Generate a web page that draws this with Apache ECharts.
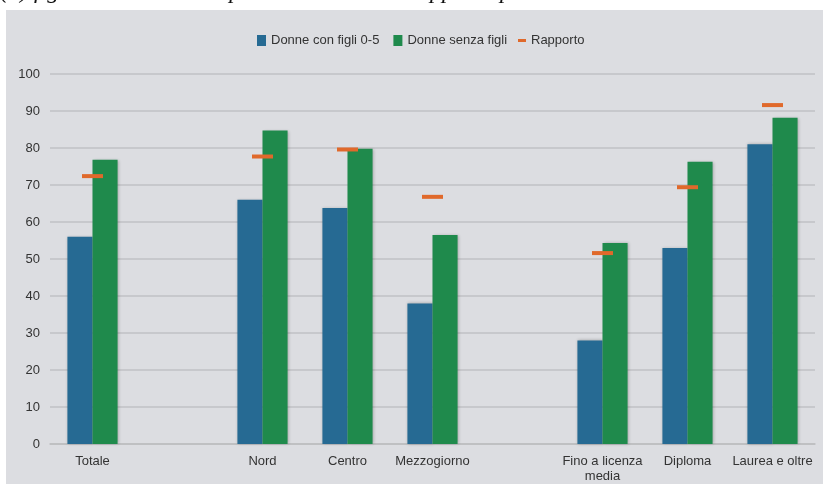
<!DOCTYPE html>
<html><head><meta charset="utf-8">
<script src="https://cdn.jsdelivr.net/npm/echarts@6/dist/echarts.min.js"></script>
<style>
html,body{margin:0;padding:0;background:#fff;}
#wrap{position:relative;width:823px;height:484px;overflow:hidden;}
#bg{position:absolute;left:6px;top:10px;width:817px;height:474px;background:#dcdde1;}
#chart{position:absolute;left:0;top:0;width:823px;height:484px;}
</style></head>
<body><div id="wrap"><div id="bg"></div><div id="chart"></div></div>
<script>
const categories = ['Totale', '', 'Nord', 'Centro', 'Mezzogiorno', ' ', 'Fino a licenza\nmedia', 'Diploma', 'Laurea e oltre'];
const conFigli = [56, '-', 66, 63.8, 38, '-', 28, 53, 81];
const senzaFigli = [76.8, '-', 84.7, 79.8, 56.5, '-', 54.3, 76.3, 88.2];
const rapporto = [72.4, '-', 77.7, 79.6, 66.8, '-', 51.6, 69.4, 91.6];
const yTicks = {min: 0, max: 100, interval: 10};
const titleText = '(a) figli 0-5 nel totale e per classe di età e rapporto per 100';

const chart = echarts.init(document.getElementById('chart'), null, {renderer: 'canvas'});
const font = 'Liberation Sans, Arial, sans-serif';
chart.setOption({
  backgroundColor: 'transparent',
  animation: false,
  textStyle: {fontFamily: font},
  graphic: [{
    type: 'text', left: 0, top: -20, silent: true,
    style: {text: titleText, font: 'italic 24px "Liberation Serif", serif', fill: '#111'}
  }],
  legend: [{
    left: 252, top: 29, itemWidth: 9, itemHeight: 11, itemGap: 14,
    icon: 'rect',
    textStyle: {fontSize: 13, color: '#333', fontFamily: font},
    data: ['Donne con figli 0-5', 'Donne senza figli']
  }, {
    left: 513, top: 29, itemWidth: 8, itemHeight: 3,
    icon: 'rect',
    textStyle: {fontSize: 13, color: '#333', fontFamily: font},
    data: ['Rapporto']
  }],
  grid: {left: 50, right: 8, top: 74, bottom: 36, containLabel: false},
  xAxis: {
    type: 'category', data: categories,
    axisLine: {lineStyle: {color: '#bcbdc0', width: 1.5}},
    axisTick: {show: false},
    axisLabel: {fontSize: 13, color: '#333', margin: 10, interval: 0, lineHeight: 15, fontFamily: font}
  },
  yAxis: {
    type: 'value', min: yTicks.min, max: yTicks.max, interval: yTicks.interval,
    axisLine: {show: false}, axisTick: {show: false},
    axisLabel: {fontSize: 13, color: '#333', margin: 10, fontFamily: font},
    splitLine: {lineStyle: {color: '#c0c1c4', width: 1.5}}
  },
  series: [{
    name: 'Donne con figli 0-5', type: 'bar', data: conFigli,
    barGap: '0%', barCategoryGap: '41%',
    itemStyle: {color: '#266a93', shadowBlur: 3, shadowColor: 'rgba(0,0,0,0.25)', shadowOffsetX: 1}
  }, {
    name: 'Donne senza figli', type: 'bar', data: senzaFigli,
    itemStyle: {color: '#1f8a4c', shadowBlur: 3, shadowColor: 'rgba(0,0,0,0.25)', shadowOffsetX: 1}
  }, {
    name: 'Rapporto', type: 'scatter', data: rapporto,
    symbol: 'rect', symbolSize: [21, 4], z: 5,
    itemStyle: {color: '#e0692b', opacity: 1}
  }]
});
</script></body></html>
